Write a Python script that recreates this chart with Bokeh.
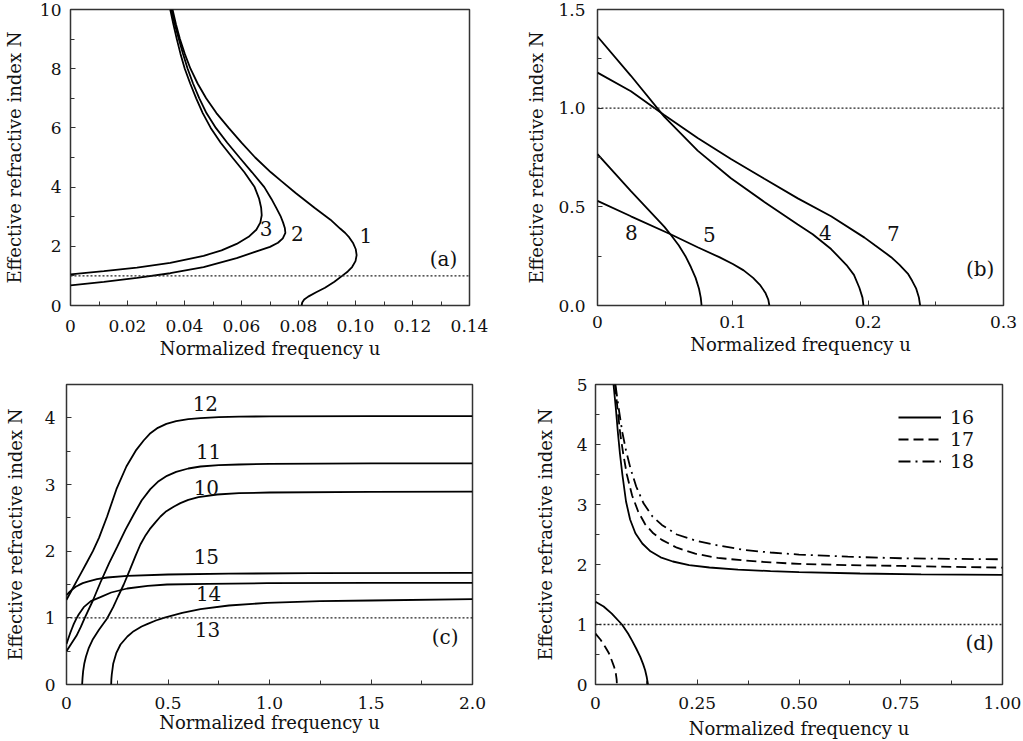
from bokeh.plotting import figure
from bokeh.models import Range1d, FixedTicker, Span, Legend, LegendItem
from bokeh.layouts import column, row
from bokeh.core.properties import value
from bokeh.embed import file_html
from bokeh.resources import INLINE

FONT = "DejaVu Serif"

# ---------------- panel (a) ----------------
a1_u = [0.0811, 0.0813, 0.0820, 0.0834, 0.0862, 0.0893, 0.0926, 0.0953, 0.0973, 0.0988, 0.1000, 0.1004,
        0.1001, 0.0992, 0.0978, 0.0964, 0.0946, 0.0912, 0.0856, 0.0790, 0.0740, 0.0703, 0.0648, 0.0600,
        0.0555, 0.0512, 0.0476, 0.0446, 0.0421, 0.0401, 0.0384, 0.0370, 0.0358]
a1_N = [0.0, 0.1, 0.2, 0.3, 0.45, 0.6, 0.8, 1.0, 1.15, 1.3, 1.5, 1.7,
        1.9, 2.1, 2.3, 2.45, 2.6, 2.9, 3.3, 3.8, 4.2, 4.5, 5.0, 5.5,
        6.0, 6.5, 7.0, 7.5, 8.0, 8.5, 9.0, 9.5, 10.0]
a2_u = [0.0, 0.0117, 0.0233, 0.035, 0.0467, 0.0583, 0.065, 0.070, 0.0728, 0.0745, 0.0754, 0.0752,
        0.0746, 0.0738, 0.0722, 0.0705, 0.0680, 0.0637, 0.0593, 0.0550, 0.0510, 0.0477, 0.0452,
        0.0430, 0.0411, 0.0395, 0.0380, 0.0366, 0.0354]
a2_N = [0.68, 0.80, 0.93, 1.09, 1.30, 1.60, 1.82, 1.98, 2.12, 2.27, 2.45, 2.62,
        2.8, 3.0, 3.3, 3.6, 4.0, 4.5, 5.0, 5.5, 6.0, 6.5, 7.0,
        7.5, 8.0, 8.5, 9.0, 9.5, 10.0]
a3_u = [0.0, 0.0117, 0.0233, 0.035, 0.0467, 0.053, 0.0583, 0.0625, 0.0652, 0.0666, 0.0671, 0.0669,
        0.0662, 0.0646, 0.0610, 0.0568, 0.0527, 0.0492, 0.0464, 0.0441, 0.0420, 0.0401, 0.0386,
        0.0373, 0.0361, 0.0350]
a3_N = [1.05, 1.16, 1.28, 1.44, 1.68, 1.86, 2.08, 2.32, 2.56, 2.80, 3.05, 3.3,
        3.6, 4.0, 4.5, 5.0, 5.5, 6.0, 6.5, 7.0, 7.5, 8.0, 8.5,
        9.0, 9.5, 10.0]
a_lab_text = ["1", "2", "3", "(a)"]
a_lab_u = [0.1036, 0.0796, 0.0686, 0.1309]
a_lab_N = [2.36, 2.42, 2.6, 1.57]
a_xticks = [0, 0.02, 0.04, 0.06, 0.08, 0.10, 0.12, 0.14]
a_xtick_labels = ["0", "0.02", "0.04", "0.06", "0.08", "0.10", "0.12", "0.14"]
a_xminor = [0.01, 0.03, 0.05, 0.07, 0.09, 0.11, 0.13]
a_yticks = [0, 2, 4, 6, 8, 10]
a_ytick_labels = ["0", "2", "4", "6", "8", "10"]
a_yminor = [1, 3, 5, 7, 9]

# ---------------- panel (b) ----------------
b4_u = [0, 0.0247, 0.0493, 0.074, 0.0986, 0.1233, 0.148, 0.159, 0.1726, 0.184, 0.1895, 0.1935, 0.1958, 0.1965]
b4_N = [1.363, 1.164, 0.957, 0.785, 0.645, 0.525, 0.41, 0.361, 0.286, 0.205, 0.155, 0.09, 0.04, 0.0]
b7_u = [0, 0.0247, 0.0493, 0.074, 0.0986, 0.1233, 0.148, 0.1726, 0.1973, 0.205, 0.217, 0.223, 0.2293,
        0.2325, 0.2354, 0.2375, 0.2384]
b7_N = [1.18, 1.086, 0.965, 0.849, 0.742, 0.642, 0.543, 0.452, 0.344, 0.305, 0.245, 0.207, 0.162,
        0.125, 0.087, 0.04, 0.0]
b5_u = [0, 0.0247, 0.054, 0.074, 0.09, 0.1, 0.108, 0.115, 0.12, 0.124, 0.1262, 0.127]
b5_N = [0.53, 0.452, 0.361, 0.295, 0.245, 0.21, 0.178, 0.14, 0.105, 0.065, 0.03, 0.0]
b8_u = [0, 0.0125, 0.0247, 0.037, 0.0493, 0.054, 0.06, 0.065, 0.069, 0.0725, 0.075, 0.0763, 0.0769]
b8_N = [0.767, 0.672, 0.580, 0.49, 0.40, 0.36, 0.305, 0.25, 0.195, 0.14, 0.085, 0.04, 0.0]
b_lab_text = ["8", "5", "4", "7", "(b)"]
b_lab_u = [0.0251, 0.0826, 0.1684, 0.2187, 0.2828]
b_lab_N = [0.369, 0.358, 0.369, 0.364, 0.187]
b_xticks = [0, 0.1, 0.2, 0.3]
b_xtick_labels = ["0", "0.1", "0.2", "0.3"]
b_xminor = [0.05, 0.15, 0.25]
b_yticks = [0, 0.5, 1.0, 1.5]
b_ytick_labels = ["0.0", "0.5", "1.0", "1.5"]
b_yminor = [0.25, 0.75, 1.25]

# ---------------- panel (c) ----------------
c12_u = [0, 0.025, 0.05, 0.075, 0.10, 0.13, 0.16, 0.2, 0.246, 0.295, 0.344, 0.38, 0.41, 0.45, 0.492,
         0.54, 0.6, 0.66, 0.75, 0.85, 1.0, 1.5, 2.0]
c12_N = [1.27, 1.41, 1.55, 1.69, 1.83, 2.0, 2.2, 2.52, 2.93, 3.27, 3.52, 3.66, 3.76, 3.85, 3.91,
         3.95, 3.98, 3.995, 4.01, 4.018, 4.022, 4.025, 4.025]
c11_u = [0, 0.025, 0.049, 0.07, 0.09, 0.13, 0.167, 0.21, 0.249, 0.29, 0.331, 0.37, 0.413, 0.45, 0.495,
         0.54, 0.6, 0.66, 0.75, 0.85, 1.0, 1.5, 2.0]
c11_N = [0.50, 0.62, 0.73, 0.86, 1.0, 1.26, 1.53, 1.82, 2.06, 2.32, 2.55, 2.76, 2.93, 3.04, 3.13,
         3.19, 3.24, 3.27, 3.29, 3.30, 3.31, 3.318, 3.318]
c10_u = [0.077, 0.079, 0.082, 0.088, 0.096, 0.11, 0.13, 0.16, 0.2, 0.23, 0.254, 0.282, 0.312, 0.34,
         0.364, 0.39, 0.41, 0.44, 0.463, 0.492, 0.53, 0.561, 0.6, 0.65, 0.742, 0.85, 1.0, 1.5, 2.0]
c10_N = [0.0, 0.1, 0.2, 0.32, 0.42, 0.55, 0.68, 0.82, 0.99, 1.16, 1.32, 1.5, 1.72, 1.93,
         2.1, 2.24, 2.33, 2.44, 2.52, 2.6, 2.67, 2.72, 2.77, 2.81, 2.85, 2.87, 2.88, 2.89, 2.894]
c13_u = [0.22, 0.221, 0.223, 0.23, 0.245, 0.266, 0.3, 0.331, 0.37, 0.4, 0.44, 0.479, 0.57, 0.66,
         0.8, 0.988, 1.25, 1.5, 2.0]
c13_N = [0.0, 0.08, 0.15, 0.31, 0.47, 0.60, 0.72, 0.80, 0.87, 0.91, 0.96, 1.0, 1.075, 1.13,
         1.185, 1.225, 1.25, 1.26, 1.28]
c14_u = [0, 0.009, 0.018, 0.027, 0.036, 0.048, 0.06, 0.085, 0.12, 0.167, 0.22, 0.299, 0.4, 0.495,
         0.7, 0.988, 1.5, 2.0]
c14_N = [0.61, 0.69, 0.77, 0.84, 0.91, 0.985, 1.05, 1.16, 1.25, 1.31, 1.38, 1.44, 1.48, 1.50,
         1.51, 1.52, 1.524, 1.524]
c15_u = [0, 0.015, 0.03, 0.045, 0.06, 0.08, 0.10, 0.15, 0.2, 0.3, 0.5, 0.8, 1.2, 2.0]
c15_N = [1.34, 1.39, 1.43, 1.465, 1.49, 1.52, 1.54, 1.58, 1.605, 1.63, 1.65, 1.663, 1.67, 1.674]
c_lab_text = ["12", "11", "10", "15", "14", "13", "(c)"]
c_lab_u = [0.684, 0.70, 0.689, 0.689, 0.70, 0.695, 1.865]
c_lab_N = [4.22, 3.50, 2.95, 1.92, 1.36, 0.82, 0.71]
c_xticks = [0, 0.5, 1.0, 1.5, 2.0]
c_xtick_labels = ["0", "0.5", "1.0", "1.5", "2.0"]
c_xminor = [0.25, 0.75, 1.25, 1.75]
c_yticks = [0, 1, 2, 3, 4]
c_ytick_labels = ["0", "1", "2", "3", "4"]
c_yminor = [0.5, 1.5, 2.5, 3.5]

# ---------------- panel (d) ----------------
d16_u = [0.0443, 0.050, 0.055, 0.060, 0.066, 0.075, 0.085, 0.098, 0.115, 0.135, 0.16, 0.19, 0.23,
         0.28, 0.35, 0.43, 0.5, 0.65, 0.8, 1.0]
d16_N = [5.0, 4.6, 4.2, 3.85, 3.5, 3.05, 2.75, 2.52, 2.35, 2.22, 2.12, 2.05, 1.99,
         1.95, 1.915, 1.89, 1.872, 1.85, 1.837, 1.827]
d17_u = [0.048, 0.054, 0.061, 0.068, 0.077, 0.09, 0.105, 0.122, 0.142, 0.163, 0.2, 0.245, 0.3,
         0.368, 0.43, 0.5, 0.62, 0.75, 0.88, 1.0]
d17_N = [5.0, 4.6, 4.17, 3.85, 3.5, 3.15, 2.88, 2.67, 2.52, 2.41, 2.28, 2.18, 2.11,
         2.065, 2.035, 2.01, 1.99, 1.977, 1.96, 1.949]
d18_u = [0.049, 0.057, 0.066, 0.075, 0.086, 0.1, 0.118, 0.14, 0.163, 0.2, 0.245, 0.3, 0.368,
         0.43, 0.5, 0.62, 0.75, 0.88, 1.0]
d18_N = [5.0, 4.6, 4.2, 3.9, 3.6, 3.3, 3.02, 2.8, 2.66, 2.5, 2.40, 2.32, 2.24,
         2.2, 2.165, 2.13, 2.104, 2.094, 2.087]
d16b_u = [0, 0.02, 0.04, 0.065, 0.08, 0.0895, 0.1, 0.11, 0.117, 0.122, 0.126, 0.129]
d16b_N = [1.38, 1.3, 1.18, 1.0, 0.85, 0.736, 0.6, 0.46, 0.34, 0.238, 0.12, 0.0]
d17b_u = [0, 0.012, 0.024, 0.033, 0.040, 0.046, 0.050, 0.052, 0.0526]
d17b_N = [0.847, 0.75, 0.626, 0.52, 0.40, 0.29, 0.18, 0.08, 0.0]
d_series = ["16", "17", "18"]
d_lab_text = ["(d)"]
d_lab_u = [0.944]
d_lab_N = [0.69]
d_xticks = [0, 0.25, 0.5, 0.75, 1.0]
d_xtick_labels = ["0", "0.25", "0.50", "0.75", "1.00"]
d_xminor = [0.125, 0.375, 0.625, 0.875]
d_yticks = [0, 1, 2, 3, 4, 5]
d_ytick_labels = ["0", "1", "2", "3", "4", "5"]
d_yminor = [0.5, 1.5, 2.5, 3.5, 4.5]

LW = 1.8


def make_fig(xr, yr, xt, xtl, xm, yt, ytl, ym, width, height, bl, br, bt, bb,
             xstd, xls, ystd, yls):
    p = figure(width=width, height=height, x_range=Range1d(*xr), y_range=Range1d(*yr),
               output_backend="svg", toolbar_location=None, tools="")
    p.min_border_left = bl
    p.min_border_right = br
    p.min_border_top = bt
    p.min_border_bottom = bb
    p.grid.visible = False
    p.outline_line_color = "#333333"
    p.outline_line_width = 1.5
    p.background_fill_color = "white"
    p.border_fill_color = "white"
    p.xaxis.ticker = FixedTicker(ticks=xt, minor_ticks=xm)
    p.yaxis.ticker = FixedTicker(ticks=yt, minor_ticks=ym)
    p.xaxis.major_label_overrides = {t: l for t, l in zip(xt, xtl)}
    p.yaxis.major_label_overrides = {t: l for t, l in zip(yt, ytl)}
    p.xaxis.axis_label = "Normalized frequency u"
    p.yaxis.axis_label = "Effective refractive index N"
    for ax in (p.xaxis[0], p.yaxis[0]):
        ax.axis_line_color = None
        ax.major_tick_in = 5
        ax.major_tick_out = 0
        ax.minor_tick_in = 4
        ax.minor_tick_out = 0
        ax.major_tick_line_color = "#333333"
        ax.minor_tick_line_color = "#333333"
        ax.major_label_text_font = FONT
        ax.major_label_text_font_size = "17px"
        ax.major_label_text_color = "#111111"
        ax.axis_label_text_font = FONT
        ax.axis_label_text_font_size = "18px"
        ax.axis_label_text_font_style = "normal"
        ax.axis_label_text_color = "#111111"
    p.xaxis.major_label_standoff = xstd
    p.xaxis.axis_label_standoff = xls
    p.yaxis.major_label_standoff = ystd
    p.yaxis.axis_label_standoff = yls
    p.add_layout(Span(location=1.0, dimension="width", line_dash="2 2",
                      line_color="#222222", line_width=1.4))
    return p


def add_labels(p, xs, ys, texts):
    p.text(x=xs, y=ys, text=texts, text_font=value(FONT), text_font_size="20px",
           text_align="center", text_baseline="middle", text_color="#111111")


# (a)
pa = make_fig((0, 0.14), (0, 10), a_xticks, a_xtick_labels, a_xminor, a_yticks, a_ytick_labels, a_yminor,
              512, 370, 69, 43, 9, 65, 14, 3, 9, 12)
for uu, nn in ((a1_u, a1_N), (a2_u, a2_N), (a3_u, a3_N)):
    pa.line(uu, nn, line_color="black", line_width=LW)
add_labels(pa, a_lab_u, a_lab_N, a_lab_text)

# (b)
pb = make_fig((0, 0.3), (0, 1.5), b_xticks, b_xtick_labels, b_xminor, b_yticks, b_ytick_labels, b_yminor,
              511, 370, 85, 20, 7, 61, 10, 3, 12, 8)
for uu, nn in ((b4_u, b4_N), (b7_u, b7_N), (b5_u, b5_N), (b8_u, b8_N)):
    pb.line(uu, nn, line_color="black", line_width=LW)
add_labels(pb, b_lab_u, b_lab_N, b_lab_text)

# (c)
pc = make_fig((0, 2.0), (0, 4.5), c_xticks, c_xtick_labels, c_xminor, c_yticks, c_ytick_labels, c_yminor,
              512, 371, 66, 40, 13, 57, 12, 0, 11, 16)
for uu, nn in ((c12_u, c12_N), (c11_u, c11_N), (c10_u, c10_N), (c13_u, c13_N), (c14_u, c14_N), (c15_u, c15_N)):
    pc.line(uu, nn, line_color="black", line_width=LW)
add_labels(pc, c_lab_u, c_lab_N, c_lab_text)

# (d)
pd_ = make_fig((0, 1.0), (0, 5), d_xticks, d_xtick_labels, d_xminor, d_yticks, d_ytick_labels, d_yminor,
               511, 371, 83, 21, 14, 56, 12, 6, 8, 18)
r16 = pd_.line(d16_u, d16_N, line_color="black", line_width=LW)
r17 = pd_.line(d17_u, d17_N, line_color="black", line_width=LW, line_dash="10 5")
r18 = pd_.line(d18_u, d18_N, line_color="black", line_width=LW, line_dash="12 5 2 5")
pd_.line(d16b_u, d16b_N, line_color="black", line_width=LW)
pd_.line(d17b_u, d17b_N, line_color="black", line_width=LW, line_dash="10 5")
add_labels(pd_, d_lab_u, d_lab_N, d_lab_text)
legend = Legend(items=[LegendItem(label=s, renderers=[r]) for s, r in zip(d_series, (r16, r17, r18))],
                location=(303, 212))
legend.border_line_alpha = 0
legend.background_fill_alpha = 0
legend.padding = 0
legend.margin = 0
legend.spacing = 0
legend.glyph_width = 43
legend.glyph_height = 20
legend.label_height = 20
legend.label_standoff = 9
legend.label_text_font = FONT
legend.label_text_font_size = "19px"
legend.label_text_color = "#111111"
pd_.add_layout(legend)

layout = column(row(pa, pb), row(pc, pd_))
open("out.html", "w").write(file_html(layout, INLINE))
